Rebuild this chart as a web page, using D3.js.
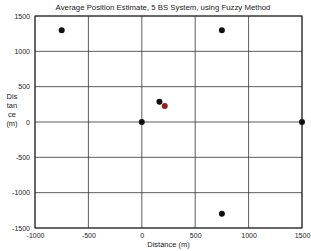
<!DOCTYPE html>
<html>
<head>
<meta charset="utf-8">
<script src="https://cdn.jsdelivr.net/npm/d3@7"></script>
<style>
  body { margin: 0; background: #fff; }
  text { font-family: "Liberation Sans", Arial, sans-serif; fill: #222; }
</style>
</head>
<body>
<div id="chart"></div>
<script>
// Base station positions (m)
const bsX = [-750, 750, 1500, 750, 0];
const bsY = [1299, 1299, 0, -1299, 0];
// Position estimates (m)
const estX = [165, 215];
const estY = [285, 225];
const estColor = ["#111", "#9e1a17"];
const xTicks = [-1000, -500, 0, 500, 1000, 1500];
const yTicks = [-1500, -1000, -500, 0, 500, 1000, 1500];

const W = 311, H = 251;
const margin = { top: 16, right: 9, bottom: 23, left: 35 };
const width = W - margin.left - margin.right;
const height = H - margin.top - margin.bottom;

const svg = d3.select("#chart").append("svg")
    .attr("width", W).attr("height", H);

const g = svg.append("g")
    .attr("transform", `translate(${margin.left},${margin.top})`);

const x = d3.scaleLinear().domain([-1000, 1500]).range([0, width]);
const y = d3.scaleLinear().domain([-1500, 1500]).range([height, 0]);

// grid
g.append("g").selectAll("line").data(xTicks).join("line")
    .attr("x1", d => x(d)).attr("x2", d => x(d))
    .attr("y1", 0).attr("y2", height)
    .attr("stroke", "#333").attr("stroke-width", 0.8);
g.append("g").selectAll("line").data(yTicks).join("line")
    .attr("x1", 0).attr("x2", width)
    .attr("y1", d => y(d)).attr("y2", d => y(d))
    .attr("stroke", "#333").attr("stroke-width", 0.8);

// frame
g.append("rect").attr("width", width).attr("height", height)
    .attr("fill", "none").attr("stroke", "#222").attr("stroke-width", 1);

// axes
const fmt = d => String(d);
const xAxis = g.append("g").attr("transform", `translate(0,${height})`)
    .call(d3.axisBottom(x).tickValues(xTicks).tickFormat(fmt).tickSize(0).tickPadding(5));
const yAxis = g.append("g")
    .call(d3.axisLeft(y).tickValues(yTicks).tickFormat(fmt).tickSize(0).tickPadding(5));
[xAxis, yAxis].forEach(a => {
  a.select(".domain").remove();
  a.selectAll("text").style("font-size", "7px")
    .style("font-family", "'Liberation Sans', Arial, sans-serif").attr("fill", "#222");
});

// points
g.append("g").selectAll("circle").data(bsX).join("circle")
    .attr("cx", d => x(d)).attr("cy", (d, i) => y(bsY[i]))
    .attr("r", 3).attr("fill", "#111");
g.append("g").selectAll("circle").data(estX).join("circle")
    .attr("cx", d => x(d)).attr("cy", (d, i) => y(estY[i]))
    .attr("r", 3).attr("fill", (d, i) => estColor[i]);

// title and labels
svg.append("text").attr("x", 163).attr("y", 10).attr("text-anchor", "middle")
    .style("font-size", "7.8px").text("Average Position Estimate, 5 BS System, using Fuzzy Method");
svg.append("text").attr("x", margin.left + x(250)).attr("y", 247).attr("text-anchor", "middle")
    .style("font-size", "7.5px").text("Distance (m)");
const yl = svg.append("text").attr("x", 12).attr("y", 99).attr("text-anchor", "middle")
    .style("font-size", "7.5px");
["Dis", "tan", "ce", "(m)"].forEach((t, i) =>
  yl.append("tspan").attr("x", 12).attr("dy", i ? 9 : 0).text(t));
</script>
</body>
</html>
